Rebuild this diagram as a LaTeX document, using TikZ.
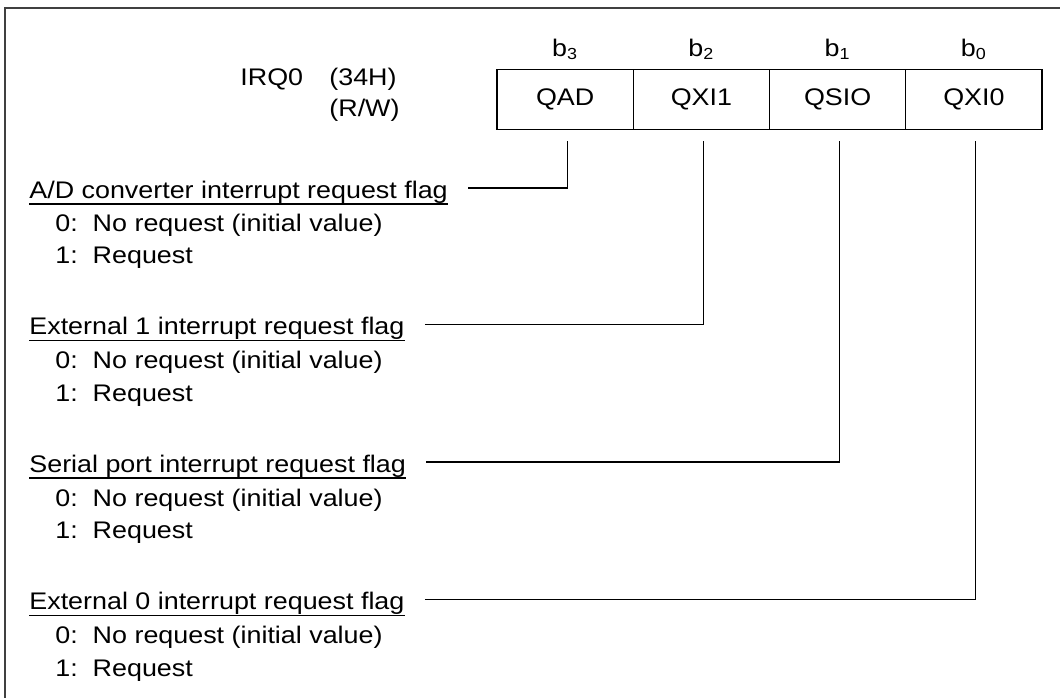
\documentclass[tikz,border=0pt]{standalone}
\usepackage{fontspec}
\setmainfont[FakeStretch=1.12]{Liberation Sans}
\usetikzlibrary{positioning}
\tikzset{
  cell/.style={draw, line width=0.6pt, minimum width=68.125pt, minimum height=30pt, inner sep=0pt, outer sep=0pt},
  bitlbl/.style={anchor=base, inner sep=0pt},
  txt/.style={anchor=base west, inner sep=0pt},
  wire/.style={line width=0.6pt},
}
\begin{document}
\begin{tikzpicture}[x=0.5pt,y=-0.5pt,font=\fontsize{12pt}{14pt}\selectfont]
            \useasboundingbox (0,0) rectangle (1060,697);
            \clip (0,0) rectangle (1060,697);
            \draw[line width=0.8pt, black!75] (1080,8) -- (5,8) -- (5,720);

            % register
            \node[txt] (irq) at (240,85) {IRQ0};
            \node[txt] (addr) at (329,85) {(34H)};
            \node[txt] (rw) at (329,116) {(R/W)};

            \node[cell] (qad) at (565.125,99.5) {QAD};
            \node[cell, right=0pt of qad] (qxi1) {QXI1};
            \node[cell, right=0pt of qxi1] (qsio) {QSIO};
            \node[cell, right=0pt of qsio] (qxi0) {QXI0};

            \node[bitlbl] (b3) at (qad.center |- 0,56) {b\textsubscript{3}};
            \node[bitlbl] (b2) at (qxi1.center |- 0,56) {b\textsubscript{2}};
            \node[bitlbl] (b1) at (qsio.center |- 0,56) {b\textsubscript{1}};
            \node[bitlbl] (b0) at (qxi0.center |- 0,56) {b\textsubscript{0}};

            % flags
            \node[txt] (fad) at (29,198) {A/D converter interrupt request flag};
            \node[txt] (fad0) at (55,231) {0:\ \ No request (initial value)};
            \node[txt] (fad1) at (55,263.5) {1:\ \ Request};

            \node[txt] (fx1) at (29,334.5) {External 1 interrupt request flag};
            \node[txt] (fx10) at (55,368.5) {0:\ \ No request (initial value)};
            \node[txt] (fx11) at (55,401) {1:\ \ Request};

            \node[txt] (fsio) at (29,472) {Serial port interrupt request flag};
            \node[txt] (fsio0) at (55,506) {0:\ \ No request (initial value)};
            \node[txt] (fsio1) at (55,538.5) {1:\ \ Request};

            \node[txt] (fx0) at (29,609.5) {External 0 interrupt request flag};
            \node[txt] (fx00) at (55,643.5) {0:\ \ No request (initial value)};
            \node[txt] (fx01) at (55,676) {1:\ \ Request};

            % underlines
            \draw[wire] ([yshift=-3pt]fad.base west) -- ([yshift=-3pt]fad.base east);
            \draw[wire] ([yshift=-3pt]fx1.base west) -- ([yshift=-3pt]fx1.base east);
            \draw[wire] ([yshift=-3pt]fsio.base west) -- ([yshift=-3pt]fsio.base east);
            \draw[wire] ([yshift=-3pt]fx0.base west) -- ([yshift=-3pt]fx0.base east);

            % connectors
            \draw[wire] ([shift={(10pt,5pt)}]fad.base east) -| ([shift={(1pt,-5.5pt)}]qad.south);
            \draw[wire] ([shift={(10pt,5pt)}]fx1.base east) -| ([shift={(1pt,-5.5pt)}]qxi1.south);
            \draw[wire] ([shift={(10pt,5pt)}]fsio.base east) -| ([shift={(1pt,-5.5pt)}]qsio.south);
            \draw[wire] ([shift={(10pt,5pt)}]fx0.base east) -| ([shift={(1pt,-5.5pt)}]qxi0.south);
\end{tikzpicture}
\end{document}
